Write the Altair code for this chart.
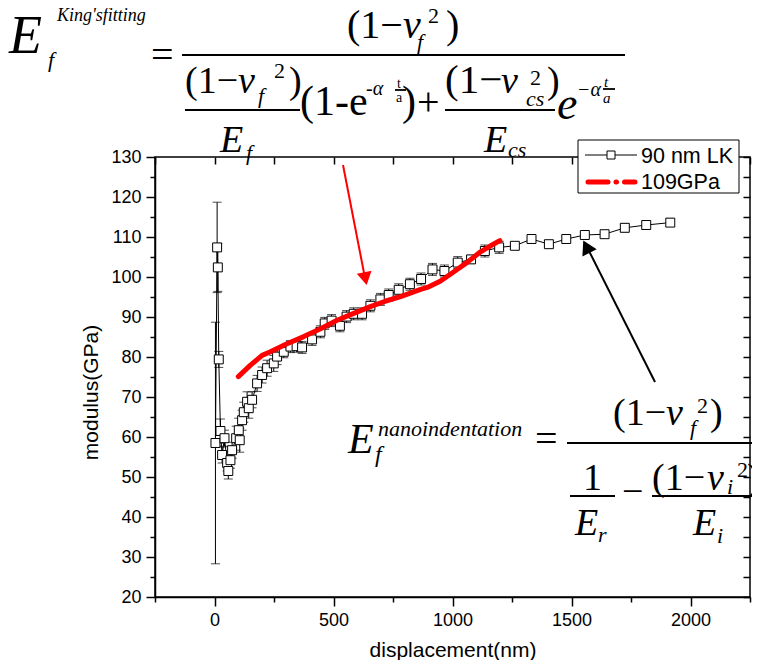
import altair as alt
import pandas as pd

# ---------------- data ----------------
displacement = [4, 11, 14, 18, 25, 32, 42, 53, 58, 67, 74, 91, 102, 106, 116, 123, 137, 144,
                158, 179, 200, 221, 249, 263, 291, 319, 345, 368, 410, 445, 463, 492, 527,
                555, 585, 620, 655, 697, 732, 774, 821, 868, 916, 966, 1022, 1078, 1136,
                1196, 1262, 1332, 1405, 1478, 1556, 1639, 1724, 1814, 1915]
modulus = [58.5, 107.4, 102.4, 79.4, 61.5, 55.5, 59.7, 53.5, 51.5, 54.2, 56.7, 59.7, 61.7,
           59.2, 64.2, 66.2, 68.8, 67.2, 69.3, 73.4, 75.5, 77.2, 78.4, 80.1, 81.3, 82.6,
           82.7, 82.4, 84.4, 86.3, 88.4, 89.1, 87.8, 90.1, 90.8, 90.8, 92.8, 94.4, 95.5,
           96.8, 98.2, 99.5, 101.9, 101.5, 103.6, 104.4, 106.5, 107.4, 107.8, 109.5, 108.2,
           109.5, 110.5, 110.7, 112.3, 113.0, 113.6]
modulus_err = [30.2, 11.3, 6.0, 2.0, 3.0, 2.0, 2.0, 2.0, 2.0, 2.0, 2.0, 3.0, 3.0, 3.0, 2.5,
               2.5, 2.5, 2.5, 2.0, 2.0, 2.0, 2.0, 2.0, 2.0, 1.5, 1.5, 1.5, 1.5, 1.5, 1.5,
               1.5, 1.5, 1.5, 1.5, 1.5, 1.5, 1.5, 1.5, 1.5, 1.5, 1.5, 1.5, 1.5, 1.5, 1.5,
               1.0, 1.5, 1.5, 0.5, 1.0, 0.8, 0.8, 0.5, 0.5, 1.0, 1.0, 1.0]

fit_displacement = [100, 150, 200, 235, 300, 375, 450, 515, 585, 655, 720, 782, 866, 894,
                    950, 1006, 1060, 1118, 1160, 1199]
fit_modulus = [75.1, 77.9, 80.4, 81.3, 83.2, 85.1, 87.2, 89.2, 90.9, 92.6, 94.0, 95.1, 96.9,
               97.4, 99.0, 101.3, 103.6, 106.3, 107.8, 109.1]

series_labels = ["90 nm LK", "109GPa"]
x_title = "displacement(nm)"
y_title = "modulus(GPa)"

# ---------------- layout ----------------
X_DOMAIN = [-250, 2250]
Y_DOMAIN = [20, 130]
W, H = 595, 440
PAD = {"left": 147, "top": 149, "right": 2, "bottom": 63}


def dx(px):
    """page pixel column -> displacement units (annotation placement)"""
    return (px - 8 - PAD["left"]) / W * (X_DOMAIN[1] - X_DOMAIN[0]) + X_DOMAIN[0]


def dy(py):
    """page pixel row -> modulus units (annotation placement)"""
    return Y_DOMAIN[1] - (py - 8 - PAD["top"]) / H * (Y_DOMAIN[1] - Y_DOMAIN[0])


xs = alt.Scale(domain=X_DOMAIN, nice=False, zero=False)
ys = alt.Scale(domain=Y_DOMAIN, nice=False, zero=False)


def X(field, axis=None):
    return alt.X(field, type="quantitative", scale=xs, axis=axis)


def Y(field, axis=None):
    return alt.Y(field, type="quantitative", scale=ys, axis=axis)


SANS = "Liberation Sans, Arial, sans-serif"
SERIF = "Liberation Serif, Times New Roman, serif"

x_vals = list(range(-250, 2251, 250))
y_vals = list(range(20, 131, 5))

main_x_axis = alt.Axis(
    orient="bottom", values=x_vals, format="d", title=x_title,
    labelExpr="(datum.value % 500 === 0 && datum.value >= 0 && datum.value <= 2000) ? datum.label : ''",
    tickSize={"condition": {"test": "datum.value % 500 === 0", "value": 9}, "value": 5},
    tickColor="black", tickWidth=1.5, domainColor="black", domainWidth=1.5,
    labelFont=SANS, labelFontSize=18, labelColor="black", labelPadding=5,
    titleFont=SANS, titleFontSize=21, titleFontWeight="normal", titleColor="black",
    titleX=W / 2, titleY=53, titleAlign="center", titleBaseline="middle",
    grid=False, labelFlush=False, labelOverlap=False,
)
main_y_axis = alt.Axis(
    orient="left", values=y_vals, format="d", title=y_title,
    labelExpr="datum.value % 10 === 0 ? datum.label : ''",
    tickSize={"condition": {"test": "datum.value % 10 === 0", "value": 9}, "value": 5},
    tickColor="black", tickWidth=1.5, domainColor="black", domainWidth=1.5,
    labelFont=SANS, labelFontSize=18, labelColor="black", labelPadding=5,
    titleFont=SANS, titleFontSize=21, titleFontWeight="normal", titleColor="black",
    titleX=-64, titleY=235, titleAngle=270, titleAlign="center", titleBaseline="middle",
    grid=False, labelFlush=False, labelOverlap=False,
)
top_axis = alt.Axis(orient="top", values=x_vals, labels=False, title=None, domain=False,
                    tickSize=7, offset=-7, tickColor="black", tickWidth=1.5, grid=False)
right_axis = alt.Axis(orient="right", values=y_vals, labels=False, title=None, domain=False,
                      tickSize=7, offset=-7, tickColor="black", tickWidth=1.5, grid=False)

# ---------------- data layers ----------------
df = pd.DataFrame({"d": displacement, "m": modulus, "e": modulus_err})
fit_df = pd.DataFrame({"d": fit_displacement, "m": fit_modulus})

base = alt.Chart(df).transform_calculate(lo="datum.m - datum.e", hi="datum.m + datum.e")

line = alt.Chart(df).mark_line(color="black", strokeWidth=1).encode(x=X("d"), y=Y("m"))
err = base.mark_rule(color="black", strokeWidth=1).encode(x=X("d"), y=Y("lo"), y2="hi:Q")
cap_lo = base.mark_tick(orient="horizontal", size=9, thickness=1, color="black").encode(
    x=X("d"), y=Y("lo"))
cap_hi = base.mark_tick(orient="horizontal", size=9, thickness=1, color="black").encode(
    x=X("d"), y=Y("hi"))
pts = alt.Chart(df).mark_point(shape="square", size=80, filled=True, fill="white",
                               stroke="black", strokeWidth=1, opacity=1).encode(
    x=X("d", main_x_axis), y=Y("m", main_y_axis))
frame_ticks = alt.Chart(df).mark_point(opacity=0).encode(
    x=X("d", top_axis), y=Y("m", right_axis))
fit = alt.Chart(fit_df).mark_line(color="#ff0000", strokeWidth=5, strokeCap="round",
                                  strokeJoin="round").encode(x=X("d"), y=Y("m"))

# ---------------- arrows ----------------
shafts = pd.DataFrame({
    "x": [dx(343), dx(655)], "y": [dy(165), dy(382)],
    "x2": [dx(365), dx(587)], "y2": [dy(278), dy(247)],
    "c": ["#ff0000", "black"],
})
heads = pd.DataFrame({
    "x": [dx(365.4), dx(586.4)], "y": [dy(278.6), dy(246.7)],
    "a": [168.7, 333.1], "s": [225, 256], "c": ["#ff0000", "black"],
})
shaft_layer = alt.Chart(shafts).mark_rule(strokeWidth=2).encode(
    x=X("x"), y=Y("y"), x2="x2:Q", y2="y2:Q", color=alt.Color("c:N", scale=None))
head_layer = alt.Chart(heads).mark_point(shape="triangle-up", filled=True, opacity=1).encode(
    x=X("x"), y=Y("y"), angle=alt.Angle("a:Q", scale=None),
    size=alt.Size("s:Q", scale=None), color=alt.Color("c:N", scale=None))

# ---------------- legend ----------------
leg_box = alt.Chart(pd.DataFrame({"x": [dx(578)], "x2": [dx(739)], "y": [dy(140)], "y2": [dy(193)]})
                    ).mark_rect(fill="white", stroke="black", strokeWidth=1).encode(
    x=X("x"), x2="x2:Q", y=Y("y"), y2="y2:Q")
leg_line1 = alt.Chart(pd.DataFrame({"x": [dx(585)], "x2": [dx(637)], "y": [dy(155)]})
                      ).mark_rule(color="black", strokeWidth=1).encode(x=X("x"), x2="x2:Q", y=Y("y"))
leg_sym1 = alt.Chart(pd.DataFrame({"x": [dx(611)], "y": [dy(155)]})).mark_point(
    shape="square", size=64, filled=True, fill="white", stroke="black", strokeWidth=1,
    opacity=1).encode(x=X("x"), y=Y("y"))
leg_line2 = alt.Chart(pd.DataFrame({"x": [dx(588)], "x2": [dx(635)], "y": [dy(182)]})
                      ).mark_rule(color="#ff0000", strokeWidth=5, strokeCap="round",
                                  strokeDash=[20, 8, 0.5, 8]).encode(x=X("x"), x2="x2:Q", y=Y("y"))
leg_text = alt.Chart(pd.DataFrame({"x": [dx(641), dx(641)], "y": [dy(163), dy(189)],
                                   "t": series_labels})).mark_text(
    font=SANS, fontSize=21.5, align="left", baseline="alphabetic", color="black").encode(
    x=X("x"), y=Y("y"), text="t:N")

# ---------------- equations ----------------
eq_italic = [
    ("E", 9, 53, 54), ("King'sfitting", 57, 21, 18), ("f", 48, 67, 22),
    ("ν", 403, 38, 40), ("f", 417, 49, 22),
    ("ν", 238, 93, 38), ("f", 258, 103, 22), ("E", 220, 152, 38), ("f", 246, 160, 22),
    ("-α", 366, 95, 20),
    ("ν", 501, 93, 38), ("cs", 526, 106, 22), ("E", 484, 152, 38), ("cs", 508, 157, 22),
    ("e", 557, 119, 46), ("−α", 577, 96, 20), ("t", 604, 87, 15), ("a", 603, 103, 15),
    ("E", 348, 453, 42), ("nanoindentation", 378, 436, 22), ("f", 375, 462, 24),
    ("ν", 666, 425, 38), ("f", 690, 435, 22),
    ("E", 575, 535, 38), ("r", 598, 542, 22),
    ("ν", 707, 490, 38), ("i", 727, 494, 22),
    ("E", 693, 535, 38), ("i", 717, 543, 22),
]
eq_normal = [
    ("=", 151, 68, 40), ("(1−", 347, 38, 40), ("2", 428, 23, 22), (")", 446, 38, 40),
    ("(1−", 185, 93, 38), ("2", 274, 78, 22), (")", 289, 93, 38),
    ("(1-e", 300, 115, 42), ("t", 397, 88, 14), ("a", 396, 102, 14), (")", 402, 115, 42),
    ("+", 417, 115, 40),
    ("(1−", 445, 93, 41), ("2", 530, 85, 22), (")", 547, 93, 38),
    ("=", 535, 452, 40), ("(1−", 613, 425, 38), ("2", 697, 413, 22), (")", 710, 425, 38),
    ("1", 583, 490, 38), ("−", 622, 504, 38),
    ("(1−", 652, 490, 38), ("2", 737, 477, 22), (")", 747, 490, 38),
]
eq_bars = [(182, 625, 55), (185, 300, 110), (395, 406, 90), (445, 555, 110), (603, 615, 89),
           (567, 770, 443), (570, 615, 496), (652, 770, 496)]


def eq_df(items):
    return pd.DataFrame({"t": [i[0] for i in items], "x": [dx(i[1]) for i in items],
                         "y": [dy(i[2]) for i in items], "s": [i[3] for i in items]})


eq_it = alt.Chart(eq_df(eq_italic)).mark_text(
    font=SERIF, fontStyle="italic", align="left", baseline="alphabetic", color="black").encode(
    x=X("x"), y=Y("y"), text="t:N", size=alt.Size("s:Q", scale=None))
eq_no = alt.Chart(eq_df(eq_normal)).mark_text(
    font=SERIF, align="left", baseline="alphabetic", color="black").encode(
    x=X("x"), y=Y("y"), text="t:N", size=alt.Size("s:Q", scale=None))
eq_rules = alt.Chart(pd.DataFrame({"x": [dx(b[0]) for b in eq_bars],
                                   "x2": [dx(b[1]) for b in eq_bars],
                                   "y": [dy(b[2]) for b in eq_bars]})).mark_rule(
    color="black", strokeWidth=1.8).encode(x=X("x"), x2="x2:Q", y=Y("y"))

chart = alt.layer(
    line, err, cap_lo, cap_hi, pts, frame_ticks, fit,
    shaft_layer, head_layer,
    leg_box, leg_line1, leg_sym1, leg_line2, leg_text,
    eq_rules, eq_it, eq_no,
).resolve_axis(x="independent", y="independent").properties(
    width=W, height=H,
    autosize=alt.AutoSizeParams(type="none"),
    padding=PAD,
    background="white",
).configure_view(stroke="black", strokeWidth=1.5).configure_text(font=SERIF)

chart.save("out.html", embed_options={"renderer": "svg", "actions": False})
